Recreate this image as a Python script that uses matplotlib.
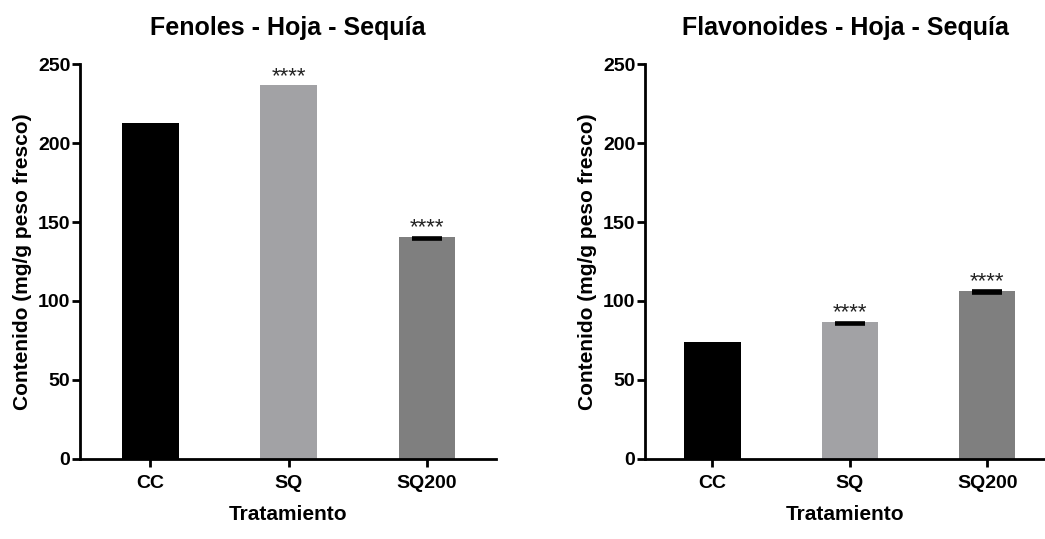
import matplotlib
matplotlib.use("Agg")
import matplotlib.pyplot as plt
import numpy as np

plt.rcParams['font.family'] = ['Liberation Sans', 'DejaVu Sans']

categories = ["CC", "SQ", "SQ200"]
fenoles = [212.8, 236.7, 140.5]
fenoles_err = [0.0, 0.0, 1.0]
fenoles_sig = ["", "****", "****"]
flavonoides = [74.2, 86.6, 106.5]
flavonoides_err = [0.0, 1.0, 1.0]
flavonoides_sig = ["", "****", "****"]
bar_colors = ["#000000", "#a2a2a5", "#7f7f7f"]
titles = ["Fenoles - Hoja - Sequía", "Flavonoides - Hoja - Sequía"]
yticks = [0, 50, 100, 150, 200, 250]

fig = plt.figure(figsize=(10.45, 5.39), dpi=100)
ax1 = fig.add_axes([80/1045, 1-458.7/539, 416/1045, (458.7-64.3)/539])
ax2 = fig.add_axes([645/1045, 1-458.7/539, 400/1045, (458.7-64.3)/539])

def draw(ax, vals, errs, sigs, title, xlim):
    x = np.arange(len(categories))
    ax.bar(x, vals, width=0.41, color=bar_colors, edgecolor='none', zorder=2)
    for xi, v, e, s in zip(x, vals, errs, sigs):
        if e > 0:
            ax.errorbar(xi, v - e, yerr=e * 0.5, fmt='none', ecolor='black',
                        elinewidth=2, capsize=10.5, capthick=2.6, zorder=3)
        if s:
            ax.text(xi, v - 1.0, s, ha='center', va='bottom', fontsize=16,
                    color='#222222')
    ax.set_xlim(*xlim)
    ax.set_ylim(0, 250)
    ax.set_yticks(yticks)
    ax.set_xticks(x)
    ax.set_xticklabels(categories)
    for lab in ax.get_xticklabels() + ax.get_yticklabels():
        lab.set_fontweight('bold')
        lab.set_fontsize(14)
    ax.spines['top'].set_visible(False)
    ax.spines['right'].set_visible(False)
    ax.spines['left'].set_linewidth(2)
    ax.spines['bottom'].set_linewidth(2)
    ax.tick_params(axis='both', direction='out', length=6, width=2, pad=1)
    ax.tick_params(axis='x', pad=6)
    ax.set_ylabel("Contenido (mg/g peso fresco)", fontsize=15, fontweight='bold', labelpad=4)
    ax.set_xlabel("Tratamiento", fontsize=15, fontweight='bold', labelpad=9)
    ax.set_title(title, fontsize=18, fontweight='bold', pad=21)

draw(ax1, fenoles, fenoles_err, fenoles_sig, titles[0], (-0.51, 2.5))
draw(ax2, flavonoides, flavonoides_err, flavonoides_sig, titles[1], (-0.49, 2.42))

fig.savefig("out.png", dpi=100)
